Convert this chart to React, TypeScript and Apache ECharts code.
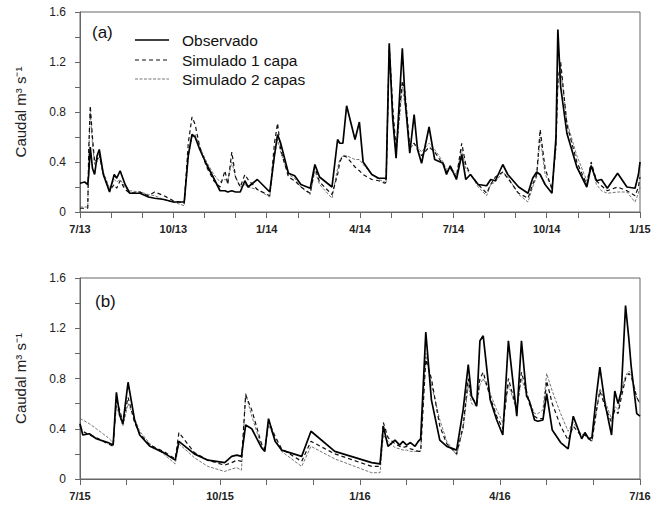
import React, { useEffect, useRef } from "react";
import * as echarts from "echarts";

// Tick labels (every 3 months) and y labels
const topMonthLabels = ["7/13", "10/13", "1/14", "4/14", "7/14", "10/14", "1/15"];
const bottomMonthLabels = ["7/15", "10/15", "1/16", "4/16", "7/16"];
const yTickLabels = ["0", "0.4", "0.8", "1.2", "1.6"];
const seriesNames = ["Observado", "Simulado 1 capa", "Simulado 2 capas"];

// Panel (a): months since 7/13
const topMonths = [0.0, 0.15, 0.25, 0.28, 0.33, 0.4, 0.47, 0.55, 0.62, 0.75, 0.95, 1.1, 1.18, 1.29, 1.45, 1.6, 1.93, 2.2, 2.4, 2.7, 3.0, 3.35, 3.48, 3.6, 3.7, 3.85, 4.07, 4.3, 4.5, 4.66, 4.75, 4.88, 5.0, 5.15, 5.3, 5.4, 5.7, 6.1, 6.25, 6.35, 6.45, 6.7, 6.9, 7.1, 7.4, 7.55, 7.7, 8.1, 8.28, 8.35, 8.45, 8.57, 8.84, 8.98, 9.1, 9.38, 9.6, 9.8, 9.84, 9.94, 10.05, 10.16, 10.36, 10.45, 10.6, 10.74, 10.85, 10.98, 11.22, 11.4, 11.67, 11.78, 11.9, 12.1, 12.27, 12.4, 12.55, 12.8, 13.07, 13.2, 13.35, 13.59, 13.75, 14.1, 14.4, 14.55, 14.68, 14.79, 14.95, 15.17, 15.3, 15.36, 15.45, 15.65, 15.97, 16.29, 16.43, 16.6, 16.76, 16.95, 17.28, 17.58, 17.84, 17.95, 18.0];
const topObs = [0.23, 0.24, 0.22, 0.3, 0.52, 0.35, 0.3, 0.45, 0.5, 0.3, 0.16, 0.3, 0.27, 0.33, 0.22, 0.15, 0.15, 0.12, 0.11, 0.1, 0.08, 0.08, 0.45, 0.62, 0.6, 0.5, 0.38, 0.27, 0.17, 0.17, 0.16, 0.17, 0.16, 0.16, 0.25, 0.2, 0.26, 0.16, 0.45, 0.62, 0.55, 0.31, 0.29, 0.22, 0.19, 0.38, 0.28, 0.2, 0.58, 0.55, 0.55, 0.85, 0.58, 0.72, 0.4, 0.3, 0.27, 0.27, 0.26, 1.35, 0.75, 0.43, 1.31, 0.9, 0.47, 0.78, 0.5, 0.39, 0.68, 0.42, 0.39, 0.3, 0.37, 0.26, 0.46, 0.26, 0.3, 0.22, 0.21, 0.26, 0.25, 0.38, 0.3, 0.2, 0.15, 0.27, 0.32, 0.3, 0.22, 0.15, 0.6, 1.46, 1.0, 0.63, 0.36, 0.2, 0.37, 0.25, 0.26, 0.19, 0.31, 0.2, 0.19, 0.3, 0.4];
const topSim1 = [0.03, 0.03, 0.03, 0.5, 0.85, 0.6, 0.4, 0.42, 0.46, 0.3, 0.17, 0.22, 0.19, 0.25, 0.18, 0.15, 0.16, 0.13, 0.16, 0.13, 0.09, 0.07, 0.55, 0.76, 0.7, 0.52, 0.36, 0.25, 0.2, 0.33, 0.22, 0.48, 0.28, 0.2, 0.3, 0.26, 0.18, 0.13, 0.55, 0.71, 0.5, 0.28, 0.25, 0.2, 0.15, 0.36, 0.24, 0.14, 0.3, 0.4, 0.45, 0.44, 0.36, 0.33, 0.3, 0.26, 0.25, 0.23, 0.24, 1.33, 0.85, 0.5, 1.05, 0.95, 0.52, 0.55, 0.5, 0.45, 0.52, 0.48, 0.38, 0.32, 0.35, 0.28, 0.55, 0.38, 0.3, 0.22, 0.15, 0.22, 0.28, 0.32, 0.27, 0.15, 0.11, 0.22, 0.3, 0.66, 0.35, 0.18, 0.55, 1.05, 1.2, 0.7, 0.4, 0.22, 0.4, 0.25, 0.21, 0.17, 0.2, 0.17, 0.13, 0.2, 0.28];
const topSim2 = [0.04, 0.04, 0.04, 0.45, 0.8, 0.55, 0.38, 0.4, 0.44, 0.32, 0.19, 0.26, 0.24, 0.26, 0.2, 0.17, 0.16, 0.14, 0.13, 0.1, 0.08, 0.05, 0.45, 0.6, 0.62, 0.52, 0.4, 0.3, 0.24, 0.26, 0.25, 0.4, 0.28, 0.2, 0.22, 0.2, 0.18, 0.12, 0.45, 0.58, 0.48, 0.3, 0.27, 0.2, 0.14, 0.33, 0.22, 0.11, 0.35, 0.42, 0.45, 0.45, 0.42, 0.42, 0.38, 0.3, 0.26, 0.24, 0.23, 1.3, 0.8, 0.45, 1.0, 0.85, 0.5, 0.55, 0.52, 0.48, 0.55, 0.5, 0.4, 0.34, 0.36, 0.3, 0.5, 0.35, 0.3, 0.2, 0.13, 0.22, 0.24, 0.32, 0.28, 0.14, 0.08, 0.2, 0.28, 0.6, 0.3, 0.2, 0.5, 1.0, 1.15, 0.72, 0.45, 0.25, 0.38, 0.22, 0.17, 0.15, 0.16, 0.16, 0.08, 0.15, 0.2];

// Panel (b): months since 7/15
const bottomMonths = [0.0, 0.06, 0.2, 0.35, 0.6, 0.71, 0.78, 0.85, 0.92, 1.03, 1.17, 1.28, 1.5, 1.79, 2.04, 2.12, 2.45, 2.74, 3.1, 3.25, 3.36, 3.46, 3.55, 3.68, 3.89, 3.96, 4.04, 4.18, 4.32, 4.75, 4.95, 5.46, 6.25, 6.43, 6.5, 6.6, 6.75, 6.85, 6.92, 7.0, 7.08, 7.18, 7.25, 7.3, 7.41, 7.53, 7.71, 7.86, 8.07, 8.21, 8.32, 8.39, 8.5, 8.57, 8.64, 8.79, 8.93, 9.06, 9.18, 9.36, 9.46, 9.57, 9.63, 9.74, 9.81, 9.92, 10.0, 10.12, 10.3, 10.46, 10.57, 10.75, 10.82, 10.9, 10.97, 11.07, 11.14, 11.25, 11.39, 11.46, 11.53, 11.6, 11.69, 11.76, 11.81, 11.93, 12.0];
const bottomObs = [0.44, 0.35, 0.36, 0.32, 0.29, 0.27, 0.69, 0.51, 0.44, 0.77, 0.47, 0.35, 0.26, 0.21, 0.15, 0.3, 0.2, 0.15, 0.13, 0.18, 0.19, 0.18, 0.43, 0.4, 0.25, 0.22, 0.48, 0.3, 0.23, 0.18, 0.38, 0.22, 0.13, 0.12, 0.42, 0.26, 0.31, 0.27, 0.3, 0.27, 0.29, 0.26, 0.3, 0.32, 1.17, 0.63, 0.31, 0.26, 0.23, 0.55, 0.91, 0.66, 0.58, 1.1, 1.14, 0.63, 0.47, 0.35, 1.1, 0.5, 1.1, 0.66, 0.62, 0.47, 0.46, 0.47, 0.68, 0.39, 0.29, 0.24, 0.5, 0.32, 0.37, 0.32, 0.33, 0.68, 0.89, 0.6, 0.35, 0.7, 0.6, 0.7, 1.38, 1.12, 0.9, 0.52, 0.5];
const bottomSim1 = [0.42, 0.38, 0.35, 0.33, 0.28, 0.26, 0.62, 0.55, 0.45, 0.65, 0.45, 0.36, 0.27, 0.22, 0.16, 0.37, 0.21, 0.15, 0.11, 0.13, 0.15, 0.14, 0.67, 0.55, 0.28, 0.24, 0.46, 0.34, 0.24, 0.14, 0.3, 0.2, 0.1, 0.1, 0.45, 0.33, 0.28, 0.26, 0.25, 0.26, 0.24, 0.23, 0.22, 0.22, 0.95, 0.8, 0.42, 0.28, 0.2, 0.42, 0.8, 0.65, 0.6, 0.8, 0.85, 0.65, 0.5, 0.4, 0.8, 0.55, 0.85, 0.7, 0.6, 0.5, 0.48, 0.48, 0.78, 0.6, 0.42, 0.31, 0.42, 0.34, 0.35, 0.32, 0.3, 0.55, 0.7, 0.58, 0.45, 0.55, 0.52, 0.65, 0.8, 0.84, 0.82, 0.65, 0.6];
const bottomSim2 = [0.48, 0.47, 0.44, 0.4, 0.33, 0.29, 0.58, 0.5, 0.42, 0.6, 0.48, 0.38, 0.28, 0.2, 0.12, 0.28, 0.17, 0.1, 0.06, 0.08, 0.09, 0.07, 0.68, 0.5, 0.26, 0.22, 0.43, 0.32, 0.22, 0.1, 0.26, 0.16, 0.05, 0.05, 0.35, 0.3, 0.25, 0.24, 0.23, 0.23, 0.22, 0.22, 0.22, 0.22, 1.0, 0.75, 0.47, 0.3, 0.19, 0.4, 0.75, 0.6, 0.58, 0.75, 0.8, 0.68, 0.55, 0.45, 0.75, 0.55, 0.8, 0.68, 0.62, 0.52, 0.52, 0.55, 0.84, 0.7, 0.52, 0.38, 0.45, 0.35, 0.36, 0.33, 0.3, 0.55, 0.72, 0.62, 0.48, 0.58, 0.55, 0.7, 0.82, 0.86, 0.84, 0.65, 0.6];

const FONT = "Liberation Sans";
const AXIS_COLOR = "#666";
const LEFT = 80;
const WIDTH = 560;

const zip = (xs: number[], ys: number[]) => xs.map((x, i) => [x, ys[i]]);

const lineStyles = [
  { color: "#000", width: 1.7, type: "solid" as any },
  { color: "#111", width: 1.2, type: [4, 3] as any },
  { color: "#666", width: 0.9, type: [3, 1.5] as any },
];

function xAxisFor(gridIndex: number, maxMonth: number, labels: string[]) {
  return {
    type: "value",
    gridIndex,
    min: 0,
    max: maxMonth,
    interval: 1,
    axisLine: { show: true, lineStyle: { color: AXIS_COLOR, width: 1 } },
    axisTick: { show: true, inside: false, length: 6, lineStyle: { color: AXIS_COLOR } },
    splitLine: { show: false },
    axisLabel: {
      margin: 11,
      fontFamily: FONT,
      fontSize: 11,
      fontWeight: "bold",
      color: "#222",
      showMinLabel: true,
      showMaxLabel: true,
      formatter: (v: number) => {
        const m = Math.round(v);
        return m % 3 === 0 ? labels[m / 3] ?? "" : "";
      },
    },
  };
}

function yAxisFor(gridIndex: number) {
  return {
    type: "value",
    gridIndex,
    min: 0,
    max: 1.6,
    interval: 0.2,
    name: "Caudal m³ s⁻¹",
    nameLocation: "middle",
    nameRotate: 90,
    nameGap: 52,
    nameTextStyle: { fontFamily: FONT, fontSize: 15, color: "#222" },
    axisLine: { show: true, lineStyle: { color: AXIS_COLOR, width: 1 } },
    axisTick: { show: true, inside: false, length: 5, lineStyle: { color: AXIS_COLOR } },
    splitLine: { show: false },
    axisLabel: {
      margin: 14,
      fontFamily: FONT,
      fontSize: 12,
      color: "#222",
      formatter: (v: number) => {
        const k = Math.round(v * 10);
        return k % 4 === 0 ? yTickLabels[k / 4] ?? "" : "";
      },
    },
  };
}

export default function App() {
  const ref = useRef<HTMLDivElement>(null);
  useEffect(() => {
    if (!ref.current) return;
    const chart = echarts.init(ref.current, undefined, { renderer: "svg" });
    const panels = [
      { months: topMonths, vals: [topObs, topSim1, topSim2] },
      { months: bottomMonths, vals: [bottomObs, bottomSim1, bottomSim2] },
    ];
    const series: any[] = [];
    panels.forEach((p, gi) => {
      p.vals.forEach((vals, si) => {
        series.push({
          type: "line",
          name: seriesNames[si],
          xAxisIndex: gi,
          yAxisIndex: gi,
          data: zip(p.months, vals),
          symbol: "none",
          lineStyle: lineStyles[si],
          z: 3 - si,
        });
      });
    });
    const legendRows = [40, 60, 79];
    const legendGraphics: any[] = [];
    legendRows.forEach((y, i) => {
      legendGraphics.push({
        type: "line",
        shape: { x1: 135, y1: y, x2: 169, y2: y },
        style: {
          stroke: lineStyles[i].color,
          lineWidth: lineStyles[i].width,
          lineDash: Array.isArray(lineStyles[i].type) ? lineStyles[i].type : null,
        },
      });
      legendGraphics.push({
        type: "text",
        x: 182,
        y,
        style: {
          text: seriesNames[i],
          font: `15.5px "${FONT}"`,
          fill: "#111",
          verticalAlign: "middle",
        },
      });
    });
    chart.setOption({
      animation: false,
      backgroundColor: "#fff",
      grid: [
        { left: LEFT, width: WIDTH, top: 12, height: 200, show: true, borderColor: AXIS_COLOR, borderWidth: 1 },
        { left: LEFT, width: WIDTH, top: 278, height: 201, show: true, borderColor: AXIS_COLOR, borderWidth: 1 },
      ],
      xAxis: [xAxisFor(0, 18, topMonthLabels), xAxisFor(1, 12, bottomMonthLabels)],
      yAxis: [yAxisFor(0), yAxisFor(1)],
      series,
      graphic: [
        {
          type: "text",
          x: 92,
          y: 32,
          style: { text: "(a)", font: `17px "${FONT}"`, fill: "#111", verticalAlign: "middle" },
        },
        {
          type: "text",
          x: 95,
          y: 301,
          style: { text: "(b)", font: `17px "${FONT}"`, fill: "#111", verticalAlign: "middle" },
        },
        ...legendGraphics,
      ],
    });
    return () => chart.dispose();
  }, []);
  return <div ref={ref} style={{ width: 657, height: 509, position: "absolute", left: 0, top: 0 }} />;
}
